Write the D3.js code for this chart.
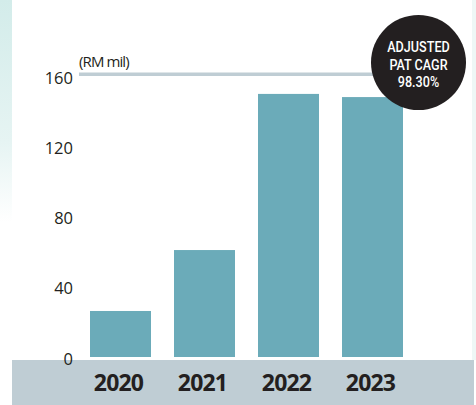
<!DOCTYPE html>
<html lang="en">
<head>
    <meta charset="UTF-8">
    <title>Adjusted PAT</title>
    <script src="https://d3js.org/d3.v7.min.js"></script>
    <style>
        body {
            margin: 0;
            background-color: #ffffff;
        }
        svg {
            display: block;
        }
        .tick-label {
            font-family: "Open Sans", sans-serif;
            font-size: 16.5px;
            fill: #231f20;
            text-anchor: end;
            dominant-baseline: central;
        }
        .year-label {
            font-family: "Open Sans", sans-serif;
            font-weight: bold;
            font-size: 23px;
            fill: #231f20;
            text-anchor: middle;
        }
    </style>
</head>
<body>

<svg id="chart"></svg>

<script>
    const width = 476;
    const height = 405;

    // data (RM mil)
    const years = ["2020", "2021", "2022", "2023"];
    const pat = [26.2, 60.9, 149.8, 148.0];
    const yTicks = [0, 40, 80, 120, 160];
    const unitLabel = "(RM mil)";
    const badgeLines = ["ADJUSTED", "PAT CAGR", "98.30%"];

    const svg = d3.select("#chart")
        .attr("width", width)
        .attr("height", height);

    // soft teal edge at the left, fading down the page
    const defs = svg.append("defs");
    const grad = defs.append("linearGradient")
        .attr("id", "edge")
        .attr("x1", 0).attr("y1", 0).attr("x2", 0).attr("y2", 1);
    grad.append("stop").attr("offset", "0%").attr("stop-color", "#d3ecea");
    grad.append("stop").attr("offset", "35%").attr("stop-color", "#e6f4f3");
    grad.append("stop").attr("offset", "55%").attr("stop-color", "#ffffff");

    svg.append("rect")
        .attr("x", 0).attr("y", 0)
        .attr("width", 12).attr("height", height)
        .attr("fill", "url(#edge)");
    svg.append("rect")
        .attr("x", 472).attr("y", 0)
        .attr("width", 4).attr("height", 360)
        .attr("fill", "#eef7f6");

    const x = d3.scaleBand()
        .domain(years)
        .range([78.5, 414.5])
        .paddingInner(0.274)
        .paddingOuter(0.137);

    const y = d3.scaleLinear()
        .domain([0, 160])
        .range([357, 76]);

    // grey band behind the year labels
    svg.append("rect")
        .attr("x", 12)
        .attr("y", 360)
        .attr("width", width - 14)
        .attr("height", height - 360)
        .attr("fill", "#bfcdd4");

    // top rule at 160
    svg.append("rect")
        .attr("x", 79)
        .attr("y", y(160) - 3.5)
        .attr("width", 300)
        .attr("height", 3.5)
        .attr("fill", "#bfcdd4");

    svg.append("text")
        .attr("x", 79)
        .attr("y", 67)
        .attr("font-family", "Open Sans, sans-serif")
        .attr("font-size", 15)
        .attr("letter-spacing", -0.9)
        .attr("fill", "#231f20")
        .text(unitLabel);

    svg.selectAll(".tick-label")
        .data(yTicks)
        .enter().append("text")
        .attr("class", "tick-label")
        .attr("x", 73)
        .attr("y", d => y(d) + 1)
        .text(d => d);

    svg.selectAll(".bar")
        .data(years)
        .enter().append("rect")
        .attr("class", "bar")
        .attr("x", d => x(d))
        .attr("width", x.bandwidth())
        .attr("y", (d, i) => y(pat[i]))
        .attr("height", (d, i) => y(0) - y(pat[i]))
        .attr("fill", "#6babb9");

    svg.selectAll(".year-label")
        .data(years)
        .enter().append("text")
        .attr("class", "year-label")
        .attr("x", d => x(d) + x.bandwidth() / 2 - 2)
        .attr("y", 390.5)
        .attr("letter-spacing", -0.8)
        .text(d => d);

    // CAGR badge
    const badge = svg.append("g")
        .attr("transform", "translate(418.5,62.5)");
    badge.append("circle")
        .attr("r", 47.5)
        .attr("fill", "#231f20");
    badge.selectAll("text")
        .data(badgeLines)
        .enter().append("text")
        .attr("transform", (d, i) => `translate(0,${-10.5 + i * 17.5}) scale(0.84,1)`)
        .attr("text-anchor", "middle")
        .attr("font-family", "Roboto, sans-serif")
        .attr("font-weight", 500)
        .attr("font-size", 15)
        .attr("fill", "#ffffff")
        .text(d => d);
</script>

</body>
</html>
